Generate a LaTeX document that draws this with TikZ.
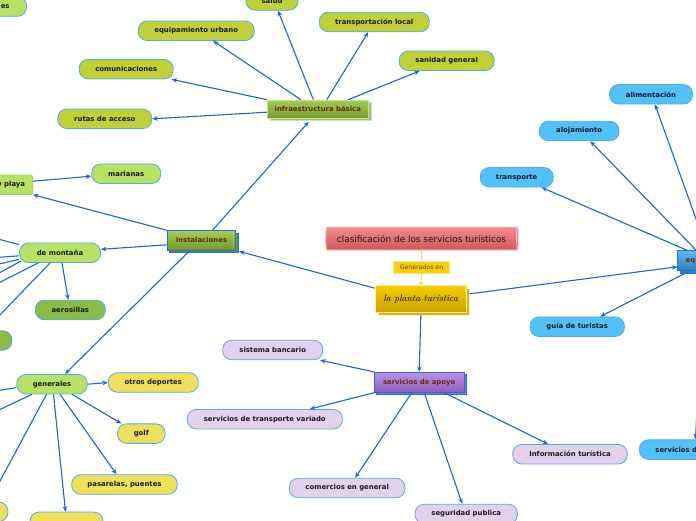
\documentclass[tikz,border=0pt]{standalone}
\usepackage{fontspec}
\setsansfont{DejaVu Sans}
\usetikzlibrary{arrows.meta,shapes.geometric,shadows}
\definecolor{cline}{RGB}{25,100,215}
\definecolor{pb}{RGB}{80,170,230}
\definecolor{olv}{RGB}{193,208,54}
\definecolor{lgr}{RGB}{181,226,99}
\definecolor{dgr}{RGB}{136,188,66}
\definecolor{ylw}{RGB}{238,224,90}
\definecolor{blu}{RGB}{82,193,250}
\definecolor{lav}{RGB}{226,208,236}
\definecolor{ptxt}{RGB}{25,25,35}
\definecolor{rtxt}{RGB}{105,40,15}
\definecolor{rborder}{RGB}{30,110,220}
\definecolor{gline}{RGB}{240,190,20}
\begin{document}
\begin{tikzpicture}[x=1pt,y=-1pt,
  pill/.style={draw=pb, line width=0.8pt, rounded corners=9pt, minimum height=19.5pt,
    inner xsep=0pt, inner ysep=0pt, font=\sffamily\bfseries\fontsize{6.9}{8}\selectfont, text=ptxt},
  rbox/.style={draw=rborder, line width=0.8pt, inner xsep=0pt, inner ysep=0pt,
    font=\sffamily\bfseries\fontsize{6.9}{8}\selectfont, text=rtxt},
  conn/.style={draw=cline, line width=1.1pt, -{Stealth[length=5.5pt,width=4.5pt]}},
  gconn/.style={draw=gline, line width=1pt, dash pattern=on 1.5pt off 1pt}]
\useasboundingbox (0,0) rectangle (696,520);
\fill[white] (0,0) rectangle (696,520);
\clip (0,0) rectangle (696,520);

% ---- infraestructura branch
\node[pill, fill=olv, minimum width=116pt] (eu) at (196.2,30.8) {equipamiento urbano};
\node[pill, fill=olv, minimum width=110pt] (tl) at (374.2,22) {transportación local};
\node[pill, fill=olv, minimum width=94pt] (com) at (126.2,69.2) {comunicaciones};
\node[pill, fill=olv, minimum width=95pt] (sg) at (446.7,60.8) {sanidad general};
\node[pill, fill=olv, minimum width=94pt] (rut) at (104.8,118.8) {rutas de acceso};
\node[pill, fill=olv, minimum width=52pt] (sal) at (272,0.5) {salud};
\node[pill, fill=lgr, anchor=east, text width=60pt, align=right, inner xsep=17pt] (esn) at (27,6.5) {es};

\node[rbox, draw={rgb,255:red,195;green,230;blue,150}, top color={rgb,255:red,160;green,205;blue,85},
  bottom color={rgb,255:red,112;green,158;blue,48}, minimum width=101pt, minimum height=18.3pt,
  general shadow={fill={rgb,255:red,165;green,190;blue,120}, draw={rgb,255:red,200;green,225;blue,170},
  shadow xshift=3pt, shadow yshift=-2.5pt}] (infra) at (317.8,109.2) {infraestructura básica};

% ---- instalaciones branch
\node[rbox, top color={rgb,255:red,165;green,205;blue,85}, bottom color={rgb,255:red,112;green,155;blue,48},
  minimum width=68.5pt, minimum height=19.3pt,
  general shadow={fill={rgb,255:red,110;green,145;blue,60}, draw=rborder, shadow xshift=2.5pt, shadow yshift=-2.5pt}]
  (inst) at (201.5,240.3) {instalaciones};
\node[draw={rgb,255:red,160;green,210;blue,90}, line width=0.8pt, fill=lgr, rounded corners=2pt,
  anchor=east, text width=60pt, align=right, inner xsep=7.5pt, minimum height=19.3pt, inner ysep=0pt,
  font=\sffamily\bfseries\fontsize{6.9}{8}\selectfont, text=ptxt] (yp) at (33,184.7) {y playa};
\node[pill, fill=lgr, minimum width=69pt] (mar) at (126.2,173.7) {marianas};
\node[pill, fill=lgr, minimum width=81pt] (dm) at (60,252.8) {de montaña};
\node[pill, fill=dgr, minimum width=70pt] (aer) at (70.3,310) {aerosillas};
\node[pill, fill=dgr, anchor=east, minimum width=60pt] (dg) at (12.3,340.5) {};
\node[pill, fill=lgr, minimum width=70.5pt] (genl) at (52,384.2) {generales};
\node[pill, fill=ylw, minimum width=90pt] (od) at (153.3,382.5) {otros deportes};
\node[pill, fill=ylw, minimum width=47.5pt] (golf) at (141.3,433.6) {golf};
\node[pill, fill=ylw, minimum width=105.6pt] (pas) at (124.5,484.5) {pasarelas, puentes};
\node[pill, fill=ylw, minimum width=73pt] (bot) at (66.5,521.8) {};
\node[pill, fill=ylw, anchor=east, minimum width=60pt] (byl) at (8.3,511.8) {};

% ---- centre
\node[cylinder, shape aspect=0.3, minimum height=193pt, minimum width=23pt, inner sep=0pt,
  draw={rgb,255:red,250;green,200;blue,200}, line width=0.8pt,
  top color={rgb,255:red,242;green,140;blue,140}, bottom color={rgb,255:red,212;green,85;blue,85},
  font=\sffamily\fontsize{8.9}{10}\selectfont, text=ptxt] (cls) at (421.5,238.5)
  {clasificación de los servicios turísticos};
\node[fill={rgb,255:red,250;green,205;blue,20}, draw={rgb,255:red,255;green,232;blue,120}, line width=0.6pt,
  minimum width=55.5pt, minimum height=12pt, inner sep=0pt,
  font=\sffamily\fontsize{6.2}{7}\selectfont, text={rgb,255:red,110;green,70;blue,0}] (gnd) at (421.5,267) {Generados en};
\node[rbox, draw={rgb,255:red,255;green,238;blue,150}, top color={rgb,255:red,248;green,205;blue,0},
  bottom color={rgb,255:red,200;green,160;blue,0}, minimum width=91.5pt, minimum height=26.5pt,
  general shadow={fill={rgb,255:red,215;green,178;blue,20}, draw={rgb,255:red,255;green,245;blue,200},
  shadow xshift=3pt, shadow yshift=-3pt},
  font=\itshape\fontsize{9.4}{11}\selectfont, text=black] (planta) at (420.8,298.8) {la planta turística};

% ---- servicios de apoyo
\node[rbox, top color={rgb,255:red,188;green,145;blue,228}, bottom color={rgb,255:red,140;green,95;blue,185},
  minimum width=89.7pt, minimum height=20pt,
  general shadow={fill={rgb,255:red,150;green,115;blue,190}, draw=rborder, shadow xshift=2.5pt, shadow yshift=-2.5pt}]
  (sa) at (419.2,382.3) {servicios de apoyo};
\node[pill, fill=lav, minimum width=100pt] (sb) at (272.7,350) {sistema bancario};
\node[pill, fill=lav, minimum width=155pt] (stv) at (264.8,419.2) {servicios de transporte variado};
\node[pill, fill=lav, minimum width=115.7pt] (cmg) at (347.2,488) {comercios en general};
\node[pill, fill=lav, minimum width=102.3pt] (seg) at (466.2,514) {seguridad publica};
\node[pill, fill=lav, minimum width=114.6pt] (info) at (570,454.2) {Información turística};

% ---- equipamiento
\node[rbox, top color={rgb,255:red,90;green,185;blue,235}, bottom color={rgb,255:red,40;green,130;blue,190},
  anchor=west, text width=80pt, align=left, inner xsep=8pt, minimum height=20pt,
  general shadow={fill={rgb,255:red,50;green,130;blue,190}, draw=rborder, shadow xshift=2.5pt, shadow yshift=-2.5pt}]
  (equ) at (677.3,260.8) {equipamiento};
\node[pill, fill=blu, minimum width=83pt] (ali) at (651,94.3) {alimentación};
\node[pill, fill=blu, minimum width=79.7pt] (aloj) at (579.2,131) {alojamiento};
\node[pill, fill=blu, minimum width=73pt] (tr) at (516.7,177.3) {transporte};
\node[pill, fill=blu, minimum width=94.3pt] (guia) at (577.2,326.7) {guía de turistas};
\node[pill, fill=blu, anchor=west, text width=100pt, align=left, inner xsep=16pt] (sd) at (639,449.6) {servicios de};

% ---- off-picture ends
\coordinate (m1) at (-30,231.5);
\coordinate (m2) at (-30,259.5);
\coordinate (m3) at (-30,271);
\coordinate (m4) at (-30,289);
\coordinate (m5) at (-30,297.5);
\coordinate (m6) at (-30,346);
\coordinate (g1) at (-30,395);
\coordinate (g2) at (-30,423.5);
\coordinate (g3) at (-30,537);

% ---- connectors
\draw[conn] ([xshift=-17pt]infra.north) -- ([xshift=17pt]eu.south);
\draw[conn] (infra.north west) -- ([xshift=-2pt]com.south east);
\draw[conn] ([yshift=-3pt]infra.west) -- (rut.east);
\draw[conn] ([xshift=-4.5pt]infra.north) -- ([xshift=6pt]sal.south);
\draw[conn] ([xshift=9pt]infra.north) -- ([xshift=-6pt]tl.south);
\draw[conn] ([xshift=30.5pt]infra.north) -- ([xshift=-27pt]sg.south);

\draw[conn] ([xshift=11pt]inst.north) -- ([xshift=-9pt,yshift=-3pt]infra.south);
\draw[conn] (inst.north west) -- (yp.south east);
\draw[conn] ([yshift=-4.5pt]inst.west) -- ([yshift=3.5pt]dm.east);
\draw[conn] ([yshift=3.5pt]yp.east) -- ([yshift=-2.5pt]mar.west);
\draw[conn] ([xshift=2pt]dm.south) -- ([xshift=-2pt]aer.north);
\draw[conn] ([yshift=-2pt]dm.north west) -- (m1);
\draw[conn] ([yshift=-3pt]dm.west) -- (m2);
\draw[conn] ([yshift=-6.5pt]dm.west) -- (m3);
\draw[conn] ([xshift=2pt,yshift=2pt]dm.south west) -- (m4);
\draw[conn] ([xshift=19pt]dm.south west) -- (m5);
\draw[conn] ([xshift=-10pt]dm.south) -- (m6);

\draw[conn] ([xshift=-11.5pt]inst.south) -- ([xshift=13pt]genl.north);
\draw[conn] (genl.east) -- (od.west);
\draw[conn] ([xshift=20pt]genl.south) -- ([xshift=-20pt]golf.north);
\draw[conn] ([xshift=8pt]genl.south) -- ([xshift=-8pt]pas.north);
\draw[conn] ([xshift=1.5pt]genl.south) -- ([xshift=-1pt]bot.north);
\draw[conn] ([yshift=-3.5pt]genl.west) -- (g1);
\draw[conn] ([xshift=-20pt]genl.south) -- (g2);
\draw[conn] ([xshift=-5.5pt]genl.south) -- (g3);

\draw[gconn] (cls.south) -- (gnd.north);
\draw[gconn, -{Stealth[length=3pt,width=3.5pt]}] (gnd.south) -- (planta.north);

\draw[conn] ([yshift=-3pt]planta.north west) -- ([xshift=3pt,yshift=-1pt]inst.south east);
\draw[conn] ([xshift=3pt,yshift=5pt]planta.east) -- ([yshift=-6pt]equ.west);
\draw[conn] ([yshift=-3pt]planta.south) -- (sa.north);

\draw[conn] (sa.north west) -- ([xshift=-3pt]sb.south east);
\draw[conn] (sa.south west) -- ([xshift=45pt]stv.north);
\draw[conn] ([xshift=-7.5pt]sa.south) -- ([xshift=8pt]cmg.north);
\draw[conn] ([xshift=5pt]sa.south) -- ([xshift=-4pt]seg.north);
\draw[conn] ([xshift=25pt]sa.south) -- ([xshift=-22pt]info.north);

\draw[conn] ([xshift=30pt]equ.north west) -- ([xshift=4pt]ali.south);
\draw[conn] ([xshift=19pt]equ.north west) -- ([xshift=11pt]aloj.south);
\draw[conn] ([xshift=10pt]equ.north west) -- ([xshift=25pt]tr.south);
\draw[conn] ([xshift=12pt]equ.south west) -- ([xshift=23pt]guia.north);
\draw[conn] ([xshift=26pt]equ.south west) -- ([xshift=56.5pt]sd.north west);
\end{tikzpicture}
\end{document}
